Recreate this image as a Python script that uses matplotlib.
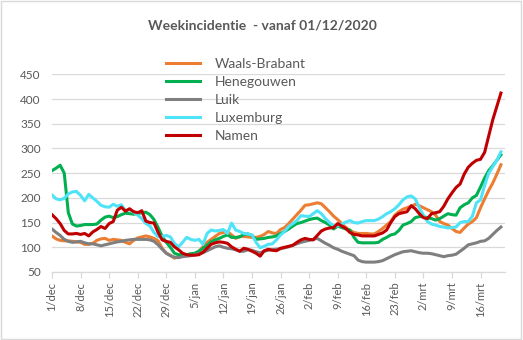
import matplotlib
matplotlib.use('Agg')
import matplotlib.pyplot as plt
from matplotlib.patches import Rectangle
import numpy as np

plt.rcParams['font.family'] = ['Lato', 'DejaVu Sans']

# weekincidentie per provincie, dagelijks vanaf 01/12/2020
waals_brabant = [
    123, 117, 114, 113, 113, 112, 111, 110, 106, 106,
    108, 114, 117, 118, 114, 116, 115, 114, 110, 107,
    114, 119, 121, 123, 121, 118, 113, 98, 88, 84,
    78, 81, 83, 84, 85, 87, 92, 101, 110, 116,
    122, 128, 130, 132, 125, 118, 122, 122, 121, 120,
    120, 122, 126, 132, 129, 128, 136, 140, 148, 157,
    166, 175, 185, 186, 188, 190, 188, 180, 172, 163,
    156, 148, 140, 134, 130, 128, 128, 128, 127, 127,
    132, 138, 145, 152, 165, 172, 177, 180, 183, 187,
    184, 180, 176, 172, 165, 152, 148, 145, 138, 132,
    130, 139, 147, 152, 160, 180, 198, 215, 230, 248, 267,
]
henegouwen = [
    255, 260, 266, 250, 170, 147, 143, 144, 146, 146,
    146, 147, 155, 161, 163, 160, 162, 166, 169, 168,
    167, 168, 170, 171, 166, 156, 140, 122, 110, 100,
    88, 85, 85, 85, 87, 88, 92, 98, 104, 111,
    115, 118, 122, 125, 120, 120, 121, 126, 127, 124,
    116, 117, 118, 120, 121, 123, 128, 132, 137, 143,
    148, 150, 153, 156, 158, 159, 154, 150, 145, 137,
    143, 140, 137, 135, 120, 110, 109, 109, 109, 109,
    110, 116, 120, 125, 127, 134, 145, 148, 152, 160,
    162, 162, 160, 158, 155, 158, 163, 168, 166, 165,
    180, 186, 190, 200, 205, 222, 240, 255, 265, 276, 287,
]
luik = [
    137, 130, 124, 116, 112, 110, 111, 112, 109, 107,
    107, 105, 103, 105, 107, 109, 111, 112, 114, 115,
    116, 116, 116, 116, 115, 112, 105, 96, 88, 83,
    80, 79, 81, 82, 83, 85, 87, 89, 93, 97,
    101, 103, 100, 98, 97, 95, 92, 92, 95, 94,
    91, 89, 92, 94, 95, 96, 97, 99, 101, 104,
    107, 110, 112, 114, 116, 118, 113, 108, 104, 99,
    96, 92, 89, 86, 83, 74, 71, 70, 70, 70,
    71, 73, 77, 81, 85, 88, 91, 92, 93, 91,
    89, 88, 88, 87, 85, 83, 81, 83, 84, 86,
    92, 98, 105, 107, 109, 112, 113, 118, 126, 134, 141,
]
luxemburg = [
    206, 198, 196, 199, 208, 212, 213, 205, 194, 207,
    200, 193, 185, 182, 181, 187, 183, 186, 174, 176,
    171, 165, 158, 148, 143, 130, 121, 122, 124, 121,
    108, 101, 110, 120, 116, 114, 116, 106, 128, 135,
    133, 134, 136, 128, 149, 135, 132, 128, 127, 125,
    110, 99, 102, 106, 107, 115, 125, 132, 142, 148,
    154, 164, 163, 162, 168, 174, 168, 158, 150, 143,
    143, 147, 151, 154, 150, 149, 152, 154, 154, 154,
    157, 162, 168, 172, 178, 186, 196, 202, 204, 198,
    180, 165, 152, 147, 145, 142, 141, 139, 140, 141,
    150, 152, 152, 163, 190, 196, 225, 250, 263, 276, 293,
]
namen = [
    166, 158, 148, 134, 127, 127, 128, 126, 128, 123,
    131, 136, 142, 138, 148, 152, 175, 181, 173, 178,
    172, 170, 174, 153, 150, 149, 130, 115, 112, 110,
    101, 95, 88, 85, 84, 84, 85, 90, 98, 106,
    109, 111, 110, 108, 101, 96, 92, 98, 96, 92,
    88, 82, 93, 96, 94, 93, 98, 100, 102, 104,
    110, 115, 118, 116, 115, 124, 133, 137, 139, 140,
    148, 143, 138, 130, 126, 125, 123, 123, 123, 123,
    126, 129, 135, 150, 162, 168, 170, 172, 184, 178,
    168, 160, 158, 168, 170, 172, 183, 198, 210, 221,
    228, 248, 262, 270, 276, 278, 292, 325, 358, 385, 412,
]

series_names = ['Waals-Brabant', 'Henegouwen', 'Luik', 'Luxemburg', 'Namen']
series_colors = ['#ED7D31', '#00B050', '#7F7F7F', '#4FE3F7', '#C00000']
tick_labels = ['1/dec', '8/dec', '15/dec', '22/dec', '29/dec', '5/jan', '12/jan',
               '19/jan', '26/jan', '2/feb', '9/feb', '16/feb', '23/feb', '2/mrt',
               '9/mrt', '16/mrt']

tekst_kleur = '#595959'
raster_kleur = '#D9D9D9'

fig = plt.figure(figsize=(5.23, 3.40), dpi=100)
ax = fig.add_axes([0.0994, 0.2, 0.8662, 0.5815])

dagen = np.arange(len(namen))
alle_reeksen = [waals_brabant, henegouwen, luik, luxemburg, namen]
for naam, kleur, reeks in zip(series_names, series_colors, alle_reeksen):
    ax.plot(dagen, reeks, color=kleur, linewidth=2.2, label=naam,
            solid_joinstyle='round')

# assen
ax.set_xlim(0, 111)
ax.set_ylim(50, 450)
ax.set_yticks(np.arange(50, 451, 50))
ax.set_xticks(np.arange(0, 7 * len(tick_labels), 7))
ax.set_xticklabels(tick_labels, rotation=90)
ax.grid(True, axis='y', color=raster_kleur, linewidth=0.9)
ax.set_axisbelow(True)
for kant in ['top', 'right', 'left']:
    ax.spines[kant].set_visible(False)
ax.spines['bottom'].set_color(raster_kleur)
ax.spines['bottom'].set_linewidth(0.9)
ax.tick_params(axis='x', colors=raster_kleur, length=4, width=0.9,
               labelcolor=tekst_kleur, labelsize=8, pad=3)
ax.tick_params(axis='y', length=0, labelcolor=tekst_kleur, labelsize=8.5, pad=8)

# titel
fig.text(0.501, 0.925, 'Weekincidentie  - vanaf 01/12/2020', ha='center', va='center',
         fontsize=10, fontweight='bold', color=tekst_kleur)

# legenda
leg = fig.legend(loc='upper left', bbox_to_anchor=(0.318, 0.830), frameon=False,
                 fontsize=10, handlelength=2.45, handletextpad=1.05,
                 labelspacing=0.44, borderpad=0, borderaxespad=0)
for t in leg.get_texts():
    t.set_color(tekst_kleur)

# rand van de grafiek
fig.patches.append(Rectangle((0.002, 0.003), 0.995, 0.994, transform=fig.transFigure,
                             fill=False, edgecolor=raster_kleur, linewidth=1))

plt.savefig('out.png', dpi=100)
plt.close()
